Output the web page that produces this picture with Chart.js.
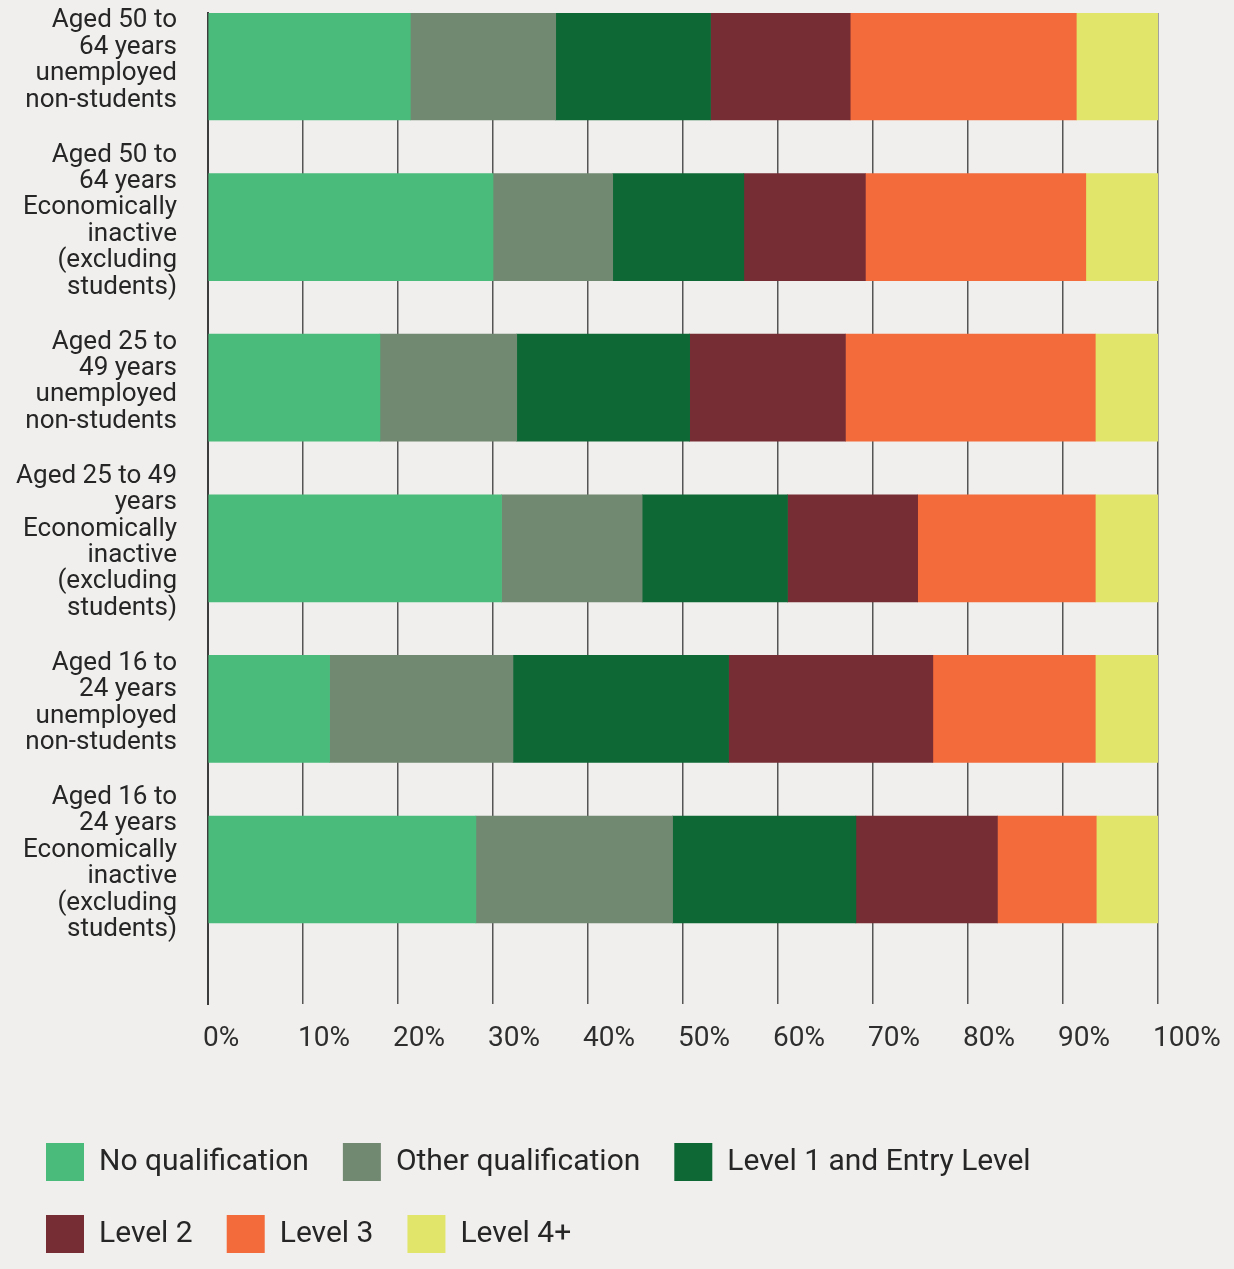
<!DOCTYPE html>
<html lang="en">

<head>
    <meta charset="UTF-8" />
    <meta name="viewport" content="width=device-width, initial-scale=1.0" />
    <title>Highest qualification by age and economic status</title>
    <style>
        html, body { margin: 0; padding: 0; background: #f0efed; overflow: hidden; }
        #wrap { width: 1234px; height: 1269px; }
    </style>
</head>

<body>

    <div id="wrap"><canvas id="chart"></canvas></div>

</body>

<script src="https://cdn.jsdelivr.net/npm/chart.js"></script>

<script>
    // categories, top to bottom
    const categories = [
        ['Aged 50 to', '64 years', 'unemployed', 'non-students'],
        ['Aged 50 to', '64 years', 'Economically', 'inactive', '(excluding', 'students)'],
        ['Aged 25 to', '49 years', 'unemployed', 'non-students'],
        ['Aged 25 to 49', 'years', 'Economically', 'inactive', '(excluding', 'students)'],
        ['Aged 16 to', '24 years', 'unemployed', 'non-students'],
        ['Aged 16 to', '24 years', 'Economically', 'inactive', '(excluding', 'students)']
    ];

    // percentages per category
    const noQualification = [21.3, 30.0, 18.1, 30.9, 12.8, 28.2];
    const otherQualification = [15.3, 12.6, 14.4, 14.8, 19.3, 20.7];
    const level1Entry = [16.3, 13.8, 18.2, 15.3, 22.7, 19.3];
    const level2 = [14.7, 12.8, 16.4, 13.7, 21.5, 14.9];
    const level3 = [23.8, 23.2, 26.3, 18.7, 17.1, 10.4];
    const level4 = [8.6, 7.6, 6.6, 6.6, 6.6, 6.5];

    const xTickLabels = ['0%', '10%', '20%', '30%', '40%', '50%', '60%', '70%', '80%', '90%', '100%'];

    const series = [
        { label: 'No qualification', values: noQualification, color: '#4abb7b' },
        { label: 'Other qualification', values: otherQualification, color: '#718871' },
        { label: 'Level 1 and Entry Level', values: level1Entry, color: '#0e6836' },
        { label: 'Level 2', values: level2, color: '#762d33' },
        { label: 'Level 3', values: level3, color: '#f36b3b' },
        { label: 'Level 4+', values: level4, color: '#e1e66a' }
    ];

    Chart.defaults.font.family = 'Roboto';
    Chart.defaults.color = '#262626';

    const ctx = document.getElementById('chart').getContext('2d');
    const chart = new Chart(ctx, {
        type: 'bar',
        data: {
            datasets: series.map(s => ({
                label: s.label,
                data: s.values.map((v, i) => ({ x: v, y: i })),
                backgroundColor: s.color,
                borderWidth: 0,
                barThickness: 107
            }))
        },
        options: {
            indexAxis: 'y',
            responsive: true,
            maintainAspectRatio: false,
            animation: false,
            layout: {
                padding: { top: 13, left: 12, right: 76, bottom: 6 }
            },
            scales: {
                x: {
                    min: 0,
                    max: 100,
                    stacked: true,
                    afterFit: s => {
                        s.height = 105;
                        s.paddingLeft = 0;
                        s.paddingRight = 0;
                    },
                    ticks: {
                        stepSize: 10,
                        autoSkip: false,
                        maxRotation: 0,
                        align: 'start',
                        labelOffset: -5,
                        padding: 18,
                        color: '#2e2e2e',
                        font: { size: 28 },
                        callback: (v, i) => xTickLabels[i]
                    },
                    grid: { color: '#555555', lineWidth: 1.5, drawTicks: false },
                    border: { display: false }
                },
                y: {
                    type: 'linear',
                    reverse: true,
                    offset: false,
                    min: -0.3331,
                    max: 5.8375,
                    stacked: true,
                    afterBuildTicks: s => {
                        s.ticks = categories.map((c, i) => ({ value: i }));
                    },
                    afterFit: s => {
                        s.width = 196;
                        s.paddingTop = 0;
                        s.paddingBottom = 0;
                    },
                    ticks: {
                        autoSkip: false,
                        padding: 31,
                        labelOffset: -6,
                        color: '#262626',
                        font: { size: 26, lineHeight: 1.015 },
                        callback: v => categories[v]
                    },
                    grid: { display: false, drawTicks: false },
                    border: { display: true, color: '#3c3c3c', width: 2 }
                }
            },
            plugins: {
                tooltip: { enabled: false },
                legend: {
                    position: 'bottom',
                    align: 'start',
                    labels: {
                        boxWidth: 38,
                        boxHeight: 38,
                        padding: 34,
                        color: '#262626',
                        font: { size: 30 }
                    }
                }
            }
        }
    });
</script>

</html>
